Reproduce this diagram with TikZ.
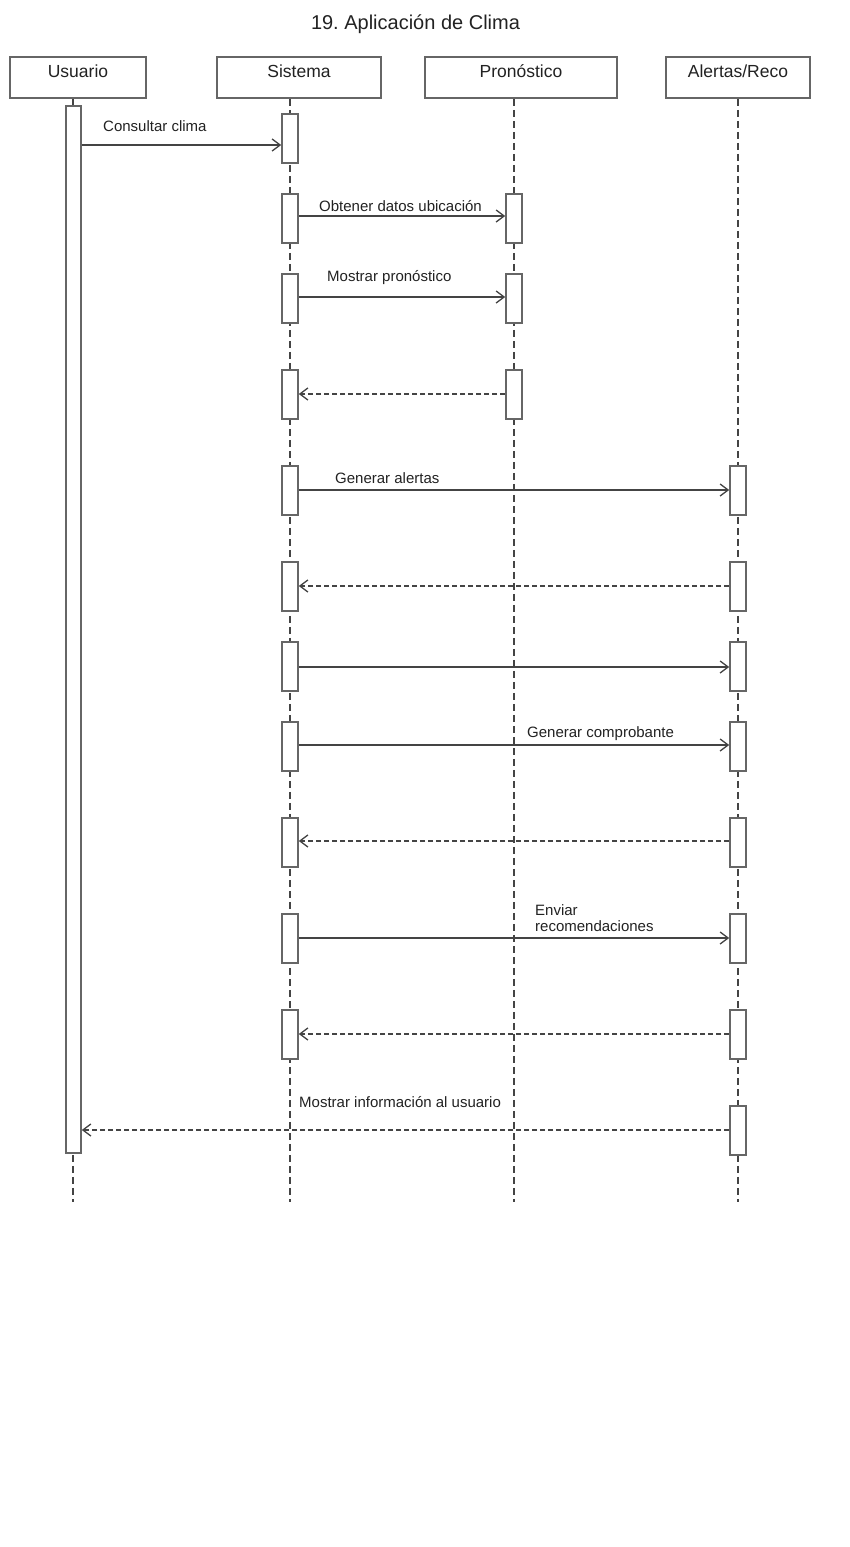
\documentclass[tikz,border=0pt]{standalone}
\usepackage{fontspec}
\setmainfont{Liberation Sans}
\usetikzlibrary{arrows.meta}
\definecolor{bx}{HTML}{666666}
\definecolor{ln}{HTML}{444444}
\definecolor{tx}{HTML}{222222}
\frenchspacing
\newcommand{\hdtext}[1]{\raisebox{0pt}[0pt][0pt]{#1}}
\begin{document}
\begin{tikzpicture}[x=1pt,y=-1pt,
  head/.style={draw=bx,line width=1.6pt,fill=white,minimum height=41pt,inner sep=0pt,
    font=\fontsize{17.5}{20}\selectfont,text=tx},
  act/.style={draw=bx,line width=1.6pt,fill=white,minimum width=15pt,inner sep=0pt},
  life/.style={draw=ln,line width=1.2pt,dash pattern=on 7pt off 4pt},
  msg/.style={draw=ln,line width=1.3pt,-{Straight Barb[length=8pt,width=12pt]}},
  ret/.style={msg,dash pattern=on 5pt off 3pt},
  lbl/.style={anchor=west,inner sep=0pt,font=\fontsize{15}{16}\selectfont,text=tx}]
\fill[white] (0,0) rectangle (850,1547);
\useasboundingbox (0,0) rectangle (850,1547);
% title
\node[font=\fontsize{20}{24}\selectfont,text=tx] (title) at (415.5,24) {19. Aplicación de Clima};
% headers
\node[head,minimum width=136pt] (hu) at (78,77.5) {\hdtext{Usuario}};
\node[head,minimum width=164pt] (hs) at (299,77.5) {\hdtext{Sistema}};
\node[head,minimum width=192pt] (hp) at (521,77.5) {\hdtext{Pronóstico}};
\node[head,minimum width=144pt] (ha) at (738,77.5) {\hdtext{Alertas/Reco}};
% lifeline ends
\coordinate (ue) at (73,1202);
\coordinate (se) at (290,1202);
\coordinate (pe) at (514,1202);
\coordinate (ae) at (738,1202);
\draw[life] (ue |- hu.south) -- (ue);
\draw[life] (se |- hs.south) -- (se);
\draw[life] (pe |- hp.south) -- (pe);
\draw[life] (ae |- ha.south) -- (ae);
% activations
\node[act,minimum height=1047pt] (u) at (73.5,629.5) {};
\foreach \i/\y in {1/138.5,2/218.5,3/298.5,4/394.5,5/490.5,6/586.5,7/666.5,8/746.5,9/842.5,10/938.5,11/1034.5}{
  \node[act,minimum height=49pt,minimum width=16pt] (s\i) at (290,\y) {};
}
\foreach \i/\y in {1/218.5,2/298.5,3/394.5}{
  \node[act,minimum height=49pt,minimum width=16pt] (p\i) at (514,\y) {};
}
\foreach \i/\y in {1/490.5,2/586.5,3/666.5,4/746.5,5/842.5,6/938.5,7/1034.5,8/1130.5}{
  \node[act,minimum height=49pt,minimum width=16pt] (a\i) at (738,\y) {};
}
% message heights
\coordinate (m1) at (0,145);
\coordinate (m2) at (0,216);
\coordinate (m3) at (0,297);
\coordinate (m4) at (0,394);
\coordinate (m5) at (0,490);
\coordinate (m6) at (0,586);
\coordinate (m7) at (0,667);
\coordinate (m8) at (0,745);
\coordinate (m9) at (0,841);
\coordinate (m10) at (0,938);
\coordinate (m11) at (0,1034);
\coordinate (m12) at (0,1130);
% messages
\draw[msg] (u.east |- m1) -- (s1.west |- m1);
\draw[msg] (s2.east |- m2) -- (p1.west |- m2);
\draw[msg] (s3.east |- m3) -- (p2.west |- m3);
\draw[ret] (p3.west |- m4) -- (s4.east |- m4);
\draw[msg] (s5.east |- m5) -- (a1.west |- m5);
\draw[ret] (a2.west |- m6) -- (s6.east |- m6);
\draw[msg] (s7.east |- m7) -- (a3.west |- m7);
\draw[msg] (s8.east |- m8) -- (a4.west |- m8);
\draw[ret] (a5.west |- m9) -- (s9.east |- m9);
\draw[msg] (s10.east |- m10) -- (a6.west |- m10);
\draw[ret] (a7.west |- m11) -- (s11.east |- m11);
\draw[ret] (a8.west |- m12) -- (u.east |- m12);
% labels
\node[lbl] (l1) at (103,126) {Consultar clima};
\node[lbl] (l2) at (319,206) {Obtener datos ubicación};
\node[lbl] (l3) at (327,278) {Mostrar pronóstico};
\node[lbl] (l5) at (335,478) {Generar alertas};
\node[lbl] (l8) at (527,734) {Generar comprobante};
\node[lbl,align=left] (l10) at (535,918.5) {Enviar\\recomendaciones};
\node[lbl] (l12) at (299,1102) {Mostrar información al usuario};
\end{tikzpicture}
\end{document}
